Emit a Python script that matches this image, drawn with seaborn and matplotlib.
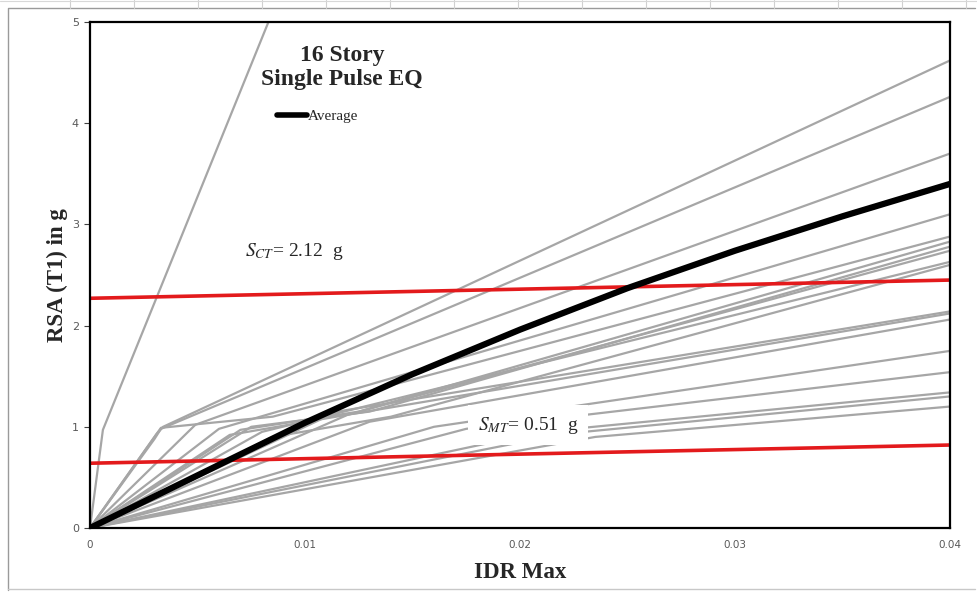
import matplotlib
matplotlib.use("Agg")
import matplotlib.pyplot as plt
import seaborn as sns
import pandas as pd
from matplotlib.lines import Line2D

# ---- data: RSA(T1) vs. maximum inter-storey drift, one record per ground motion ----
rec_steep_x = [0.0, 0.0006, 0.0083]
rec_steep_y = [0.0, 0.97, 5.0]
rec01_x = [0.0, 0.0031, 0.0034, 0.04];  rec01_y = [0.0, 0.93, 1.00, 4.62]
rec02_x = [0.0, 0.0030, 0.0033, 0.04];  rec02_y = [0.0, 0.88, 0.98, 4.26]
rec03_x = [0.0, 0.0049, 0.04];          rec03_y = [0.0, 1.02, 3.70]
rec04_x = [0.0, 0.0033, 0.0085, 0.04];  rec04_y = [0.0, 0.99, 1.10, 2.88]
rec05_x = [0.0, 0.0060, 0.04];          rec05_y = [0.0, 0.98, 3.10]
rec06_x = [0.0, 0.0070, 0.0125, 0.04];  rec06_y = [0.0, 0.97, 1.15, 2.83]
rec07_x = [0.0, 0.0075, 0.0130, 0.04];  rec07_y = [0.0, 1.00, 1.15, 2.78]
rec08_x = [0.0, 0.0065, 0.0120, 0.04];  rec08_y = [0.0, 0.92, 1.12, 2.74]
rec09_x = [0.0, 0.0080, 0.04];          rec09_y = [0.0, 0.95, 2.63]
rec10_x = [0.0, 0.0085, 0.0140, 0.04];  rec10_y = [0.0, 0.90, 1.10, 2.60]
rec11_x = [0.0, 0.0115, 0.04];          rec11_y = [0.0, 1.15, 2.14]
rec12_x = [0.0, 0.0120, 0.04];          rec12_y = [0.0, 1.12, 2.12]
rec13_x = [0.0, 0.0130, 0.04];          rec13_y = [0.0, 1.05, 2.06]
rec14_x = [0.0, 0.0160, 0.04];          rec14_y = [0.0, 1.00, 1.75]
rec15_x = [0.0, 0.0175, 0.04];          rec15_y = [0.0, 0.98, 1.54]
rec16_x = [0.0, 0.0210, 0.04];          rec16_y = [0.0, 0.95, 1.34]
rec17_x = [0.0, 0.0220, 0.04];          rec17_y = [0.0, 0.93, 1.30]
rec18_x = [0.0, 0.0235, 0.04];          rec18_y = [0.0, 0.90, 1.20]

avg_x = [0.0, 0.005, 0.010, 0.015, 0.020, 0.025, 0.030, 0.035, 0.040]
avg_y = [0.0, 0.52, 1.04, 1.52, 1.96, 2.37, 2.74, 3.08, 3.40]

sct_x = [0.0, 0.04]; sct_y = [2.27, 2.45]
smt_x = [0.0, 0.04]; smt_y = [0.64, 0.82]

x_ticks = [0, 0.01, 0.02, 0.03, 0.04]
x_tick_labels = ["0", "0.01", "0.02", "0.03", "0.04"]
y_ticks = [0, 1, 2, 3, 4, 5]
y_tick_labels = ["0", "1", "2", "3", "4", "5"]

records = [
    (rec_steep_x, rec_steep_y), (rec01_x, rec01_y), (rec02_x, rec02_y),
    (rec03_x, rec03_y), (rec04_x, rec04_y), (rec05_x, rec05_y),
    (rec06_x, rec06_y), (rec07_x, rec07_y), (rec08_x, rec08_y),
    (rec09_x, rec09_y), (rec10_x, rec10_y), (rec11_x, rec11_y),
    (rec12_x, rec12_y), (rec13_x, rec13_y), (rec14_x, rec14_y),
    (rec15_x, rec15_y), (rec16_x, rec16_y), (rec17_x, rec17_y),
    (rec18_x, rec18_y),
]

rows = []
for i, (xs, ys) in enumerate(records):
    for k, (xv, yv) in enumerate(zip(xs, ys)):
        rows.append({"record": i, "order": k, "IDR": xv, "RSA": yv})
df = pd.DataFrame(rows)

sns.set_theme(style="white")
plt.rcParams["mathtext.fontset"] = "stix"
serif = ["Liberation Serif", "DejaVu Serif"]

fig = plt.figure(figsize=(9.77, 5.92), dpi=100)
W, H = 977, 592
ax = fig.add_axes([90 / W, 1 - 528 / H, 860 / W, 506 / H])

sns.lineplot(data=df, x="IDR", y="RSA", units="record", estimator=None,
             sort=False, color="#a6a6a6", linewidth=1.6, ax=ax, legend=False)
sns.lineplot(x=sct_x, y=sct_y, color="#e31a1c", linewidth=2.6, ax=ax)
sns.lineplot(x=smt_x, y=smt_y, color="#e31a1c", linewidth=2.6, ax=ax)
sns.lineplot(x=avg_x, y=avg_y, color="black", linewidth=4.5, ax=ax)

ax.set_xlim(0, 0.04)
ax.set_ylim(0, 5)
ax.set_xticks(x_ticks)
ax.set_xticklabels(x_tick_labels)
ax.set_yticks(y_ticks)
ax.set_yticklabels(y_tick_labels)
ax.tick_params(axis="x", length=0, pad=9, labelsize=7.5, labelcolor="#595959")
ax.tick_params(axis="y", left=True, length=4, width=0.8, color="#404040",
               pad=4, labelsize=8, labelcolor="#595959")
for s in ax.spines.values():
    s.set_visible(True)
    s.set_color("black")
    s.set_linewidth(1.6)

ax.set_xlabel("IDR Max", fontsize=16.5, fontweight="bold", family=serif,
              labelpad=8)
ax.set_ylabel("RSA (T1) in g", fontsize=16.5, fontweight="bold", family=serif,
              labelpad=3)

# title block inside the plot area
ax.text(342 / W, 1 - 55 / H, "16 Story", transform=fig.transFigure,
        ha="center", va="center", fontsize=17, fontweight="bold", family=serif)
ax.text(342 / W, 1 - 80 / H, "Single Pulse EQ", transform=fig.transFigure,
        ha="center", va="center", fontsize=17, fontweight="bold", family=serif)

avg_handle = Line2D([], [], color="black", linewidth=4)
ax.legend([avg_handle], ["Average"], loc="center left",
          bbox_to_anchor=(277 / W, 1 - 116 / H), bbox_transform=fig.transFigure,
          frameon=False, handlelength=1.95, handletextpad=0.05, borderpad=0,
          borderaxespad=0, prop={"family": serif, "size": 11})

ax.text(245 / W, 1 - 252 / H, r"$S_{CT}$= 2.12  g", transform=fig.transFigure,
        ha="left", va="center", fontsize=14, family=serif)
ax.text(478 / W, 1 - 425 / H, r"$S_{MT}$= 0.51  g", transform=fig.transFigure,
        ha="left", va="center", fontsize=14, family=serif, zorder=5,
        bbox=dict(facecolor="white", edgecolor="none", pad=7))

# chart-area frame and sheet grid behind it
frame = Line2D([8 / W, 8 / W, 975 / W], [2 / H, 1 - 8 / H, 1 - 8 / H],
               transform=fig.transFigure, color="#9a9a9a", linewidth=1.0)
fig.add_artist(frame)
fig.add_artist(Line2D([8 / W, 975 / W], [3 / H, 3 / H], transform=fig.transFigure,
                      color="#c8c8c8", linewidth=1.0))
for cx in range(70, 977, 64):
    fig.add_artist(Line2D([cx / W, cx / W], [1 - 8 / H, 1.0],
                          transform=fig.transFigure, color="#d0d0d0", linewidth=0.8))
fig.add_artist(Line2D([0, 1], [1 - 1 / H, 1 - 1 / H], transform=fig.transFigure,
                      color="#d8d8d8", linewidth=0.8))

fig.savefig("out.png", dpi=100)
